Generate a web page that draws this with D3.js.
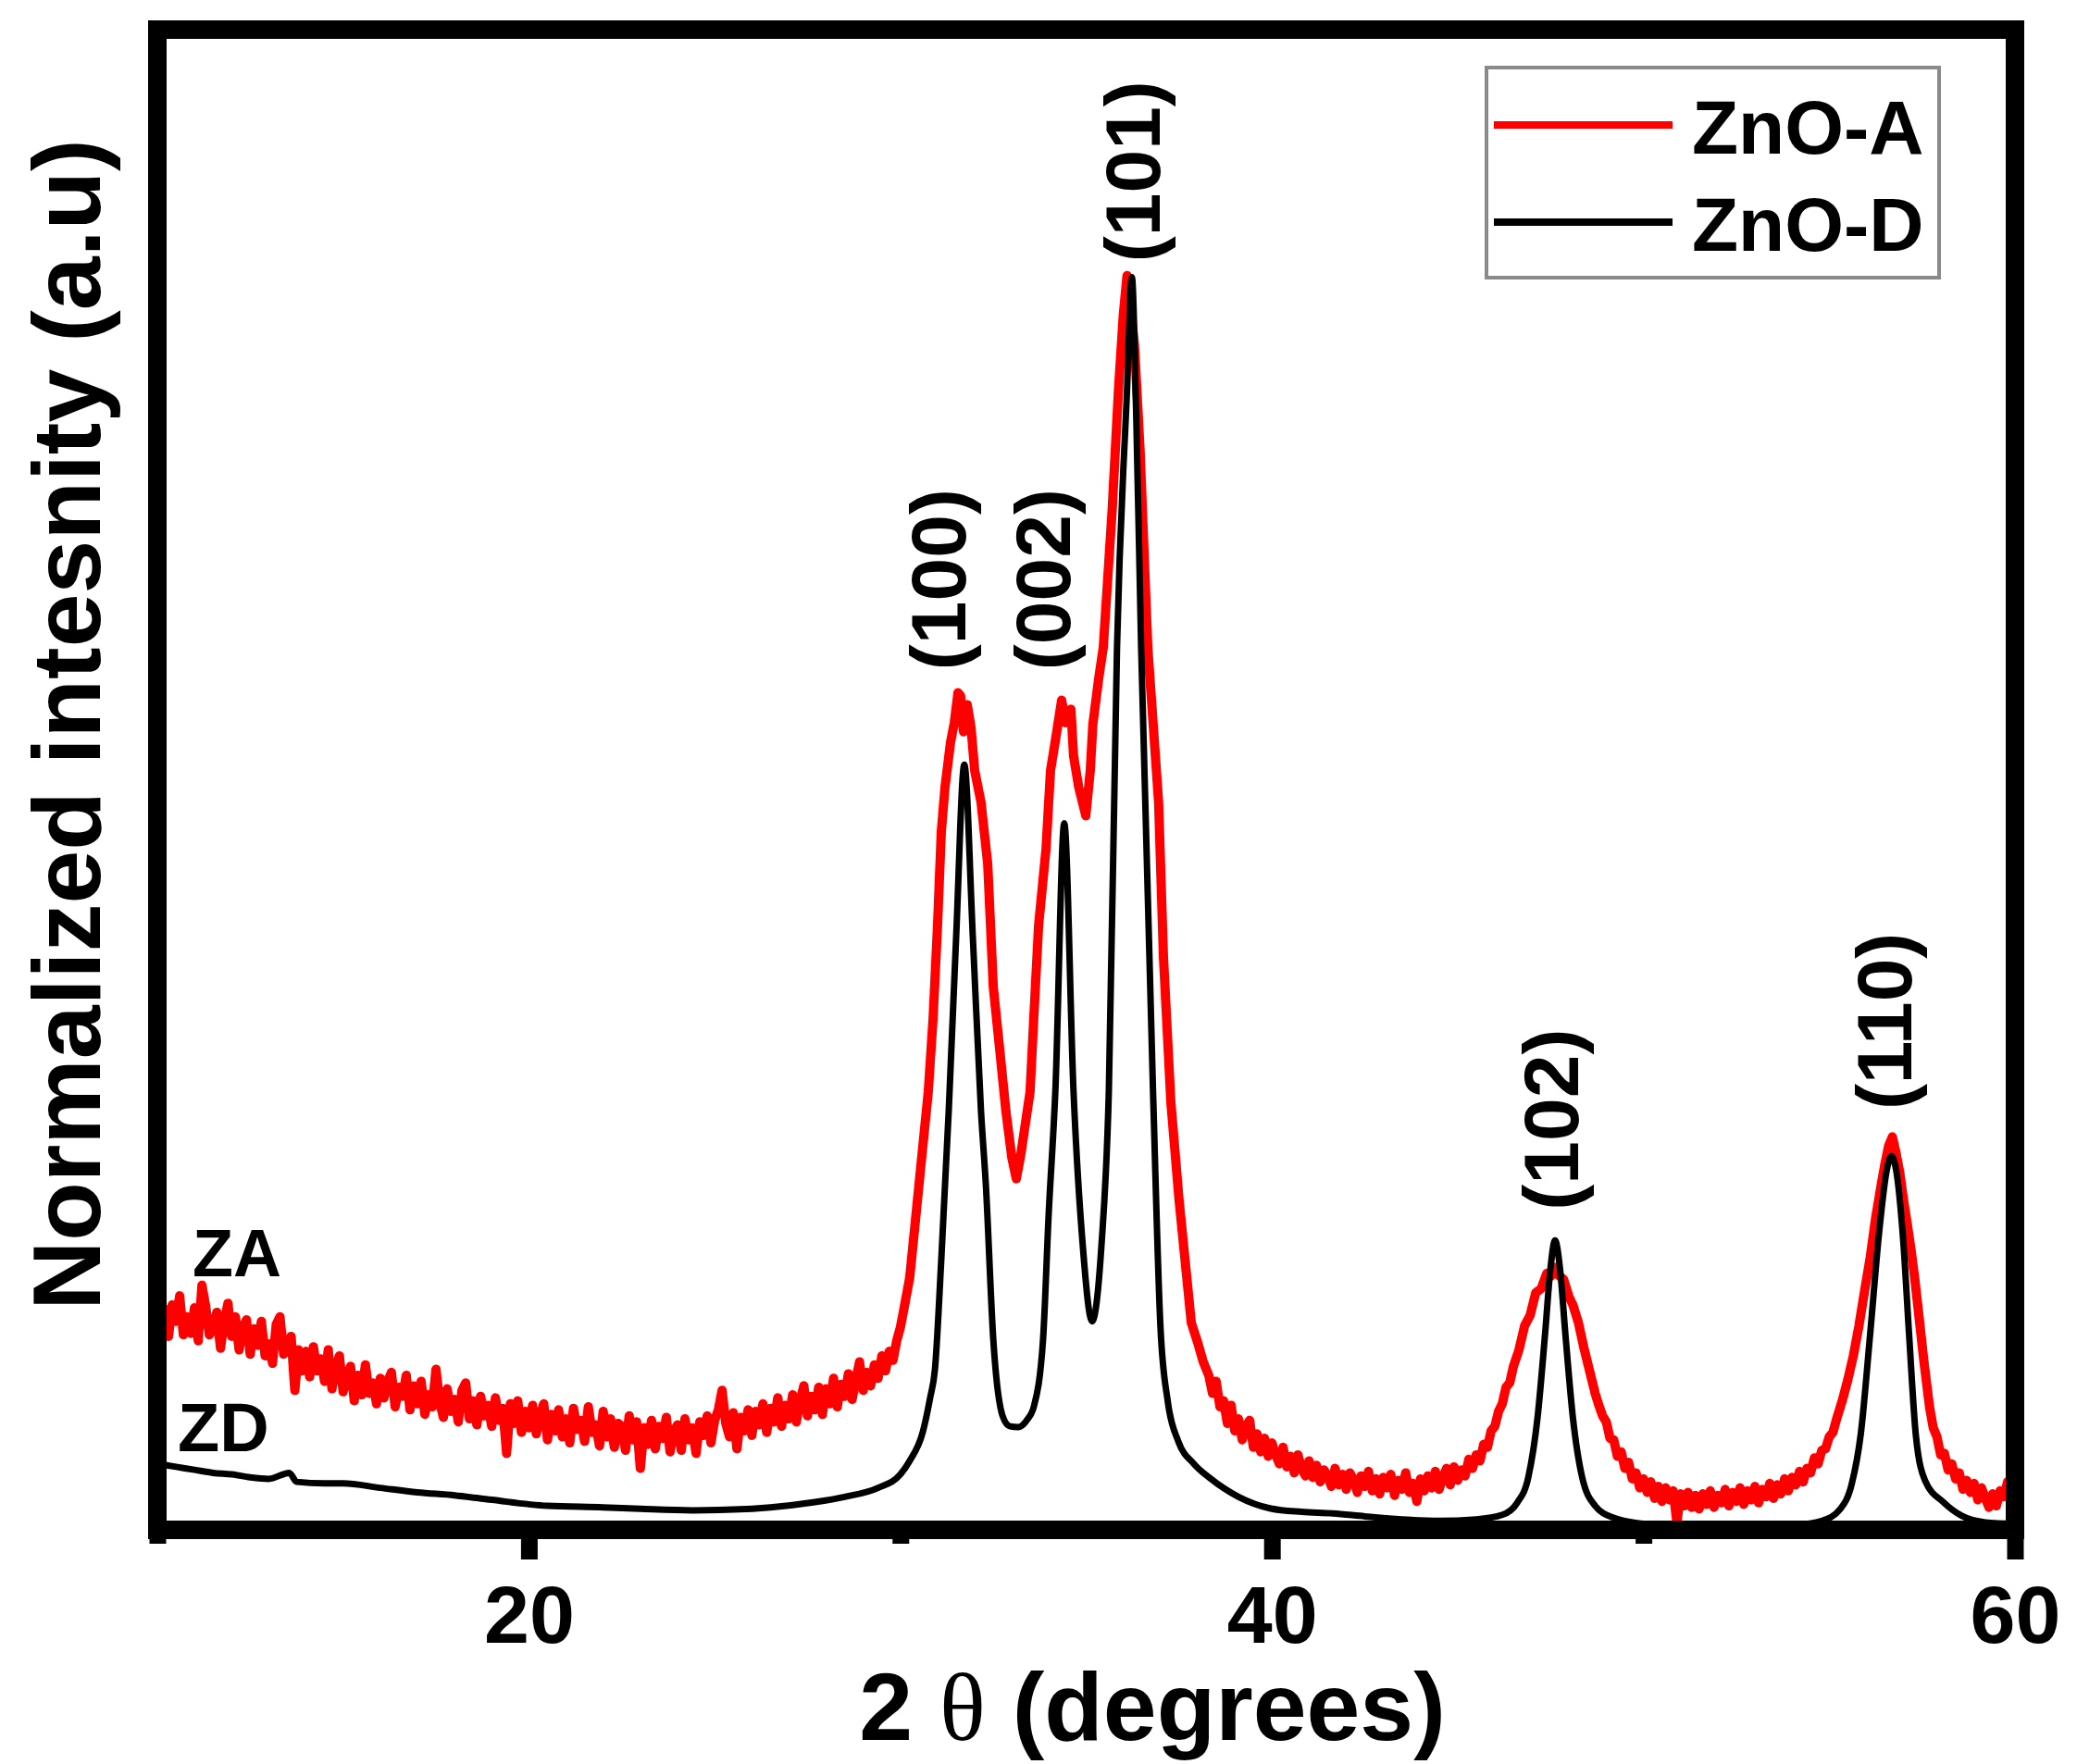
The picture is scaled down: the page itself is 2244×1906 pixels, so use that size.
<!DOCTYPE html>
<html>
<head>
<meta charset="utf-8">
<script src="https://d3js.org/d3.v7.min.js"></script>
<style>
  body { margin: 0; background: #fff; }
  text { font-family: "Liberation Sans", Arial, sans-serif; font-weight: bold; fill: #000; }
</style>
</head>
<body>
<svg id="chart" width="2244" height="1906"></svg>
<script>
// 2 theta (degrees), normalized intensity (a.u.)
var znoA = [
  [10.0,15.3],[10.1,13.5],[10.2,14.7],[10.3,12.9],[10.4,15.0],[10.5,13.9],[10.6,15.6],[10.7,13.0],[10.8,14.2],[10.9,13.1],
  [11.0,14.8],[11.1,12.6],[11.2,16.3],[11.3,14.9],[11.4,13.0],[11.5,13.4],[11.6,14.5],[11.7,12.1],[11.8,13.9],[11.9,15.1],
  [12.0,12.9],[12.1,14.2],[12.2,12.0],[12.3,13.5],[12.4,14.0],[12.5,11.7],[12.6,13.4],[12.7,12.3],[12.8,13.9],[12.9,11.6],
  [13.0,12.4],[13.1,11.1],[13.2,13.7],[13.3,14.2],[13.4,11.7],[13.5,12.3],[13.6,12.9],[13.7,9.3],[13.8,12.0],[13.9,10.6],
  [14.0,11.9],[14.1,10.2],[14.2,12.2],[14.3,10.6],[14.4,11.4],[14.5,9.9],[14.6,12.0],[14.7,9.4],[14.8,10.8],[14.9,11.6],
  [15.0,9.2],[15.1,10.2],[15.2,10.9],[15.3,8.6],[15.4,10.3],[15.5,9.0],[15.6,11.0],[15.7,9.1],[15.8,9.8],[15.9,8.4],
  [16.0,10.1],[16.1,8.8],[16.2,9.9],[16.3,10.5],[16.4,8.2],[16.5,9.5],[16.6,8.9],[16.7,10.3],[16.8,8.0],[16.9,9.6],
  [17.0,8.4],[17.1,9.9],[17.2,7.7],[17.3,9.0],[17.4,8.2],[17.5,10.7],[17.6,8.5],[17.7,7.5],[17.8,9.4],[17.9,7.9],
  [18.0,8.7],[18.1,7.2],[18.2,9.3],[18.3,9.8],[18.4,7.4],[18.5,8.6],[18.6,7.0],[18.7,8.9],[18.8,7.6],[18.9,8.3],
  [19.0,6.9],[19.1,8.8],[19.2,7.3],[19.3,8.1],[19.4,5.1],[19.5,8.4],[19.6,7.1],[19.7,8.6],[19.8,6.5],[19.9,7.9],
  [20.0,6.8],[20.1,8.3],[20.2,6.4],[20.3,7.6],[20.4,8.4],[20.5,6.0],[20.6,7.7],[20.7,6.6],[20.8,8.0],[20.9,6.2],
  [21.0,7.4],[21.1,5.8],[21.2,8.1],[21.3,6.7],[21.4,7.3],[21.5,5.9],[21.6,8.2],[21.7,6.5],[21.8,7.0],[21.9,5.6],
  [22.0,7.9],[22.1,6.2],[22.2,7.4],[22.3,5.5],[22.4,7.1],[22.5,6.9],[22.6,5.3],[22.7,7.6],[22.8,6.0],[22.9,7.2],
  [23.0,4.1],[23.1,6.8],[23.2,5.7],[23.3,7.3],[23.4,5.4],[23.5,6.9],[23.6,6.1],[23.7,7.5],[23.8,5.2],[23.9,6.6],
  [24.0,7.0],[24.1,5.3],[24.2,7.4],[24.3,6.0],[24.4,6.8],[24.5,5.1],[24.6,7.2],[24.7,6.3],[24.8,7.6],[24.9,5.8],
  [25.0,7.3],[25.1,8.0],[25.2,9.3],[25.3,7.1],[25.4,6.2],[25.5,7.8],[25.6,5.4],[25.7,7.5],[25.8,6.6],[25.9,8.0],
  [26.0,6.3],[26.1,7.9],[26.2,7.0],[26.3,8.4],[26.4,6.5],[26.5,8.1],[26.6,7.2],[26.7,8.8],[26.8,6.9],[26.9,8.3],
  [27.0,7.4],[27.1,9.0],[27.2,7.2],[27.3,8.6],[27.4,9.6],[27.5,7.6],[27.6,8.9],[27.7,8.0],[27.8,9.5],[27.9,7.7],
  [28.0,9.4],[28.1,8.4],[28.2,10.1],[28.3,8.2],[28.4,9.7],[28.5,8.9],[28.6,10.4],[28.7,8.7],[28.8,10.0],[28.9,11.2],
  [29.0,9.3],[29.1,10.5],[29.2,9.6],[29.3,11.0],[29.4,10.1],[29.5,11.6],[29.6,10.6],[29.7,11.9],[29.8,11.3],[29.9,12.6],
  [30.0,13.5],[30.1,14.8],[30.25,16.8],[30.5,23.0],[30.75,29.2],[30.88,34.1],[31.0,40.3],[31.1,46.5],[31.2,49.5],[31.35,52.5],
  [31.45,53.8],[31.55,55.8],[31.62,55.6],[31.7,53.2],[31.8,55.0],[31.9,53.5],[32.0,50.6],[32.17,48.5],[32.35,44.4],[32.5,36.2],
  [32.67,32.1],[32.84,27.9],[33.0,24.8],[33.12,23.4],[33.24,25.0],[33.49,29.2],[33.59,34.1],[33.72,40.3],[33.92,45.4],[34.04,50.6],
  [34.17,52.6],[34.34,55.3],[34.45,53.8],[34.59,54.7],[34.66,51.6],[34.8,49.5],[34.99,47.6],[35.11,50.6],[35.18,53.7],[35.34,56.8],
  [35.46,58.8],[35.7,68.0],[35.87,76.0],[36.0,81.0],[36.1,83.6],[36.3,79.0],[36.45,72.0],[36.66,58.8],[36.95,48.5],[37.08,38.2],
  [37.28,28.5],[37.5,22.0],[37.83,13.8],[38.0,12.5],[38.15,11.2],[38.3,10.3],[38.4,9.1],[38.5,9.9],[38.6,8.2],[38.7,8.6],
  [38.8,7.1],[38.9,8.3],[39.0,6.6],[39.1,7.4],[39.2,6.0],[39.3,6.9],[39.4,7.3],[39.5,5.5],[39.6,6.4],[39.7,5.2],
  [39.8,6.1],[39.9,4.9],[40.0,5.8],[40.1,5.0],[40.2,4.4],[40.3,5.5],[40.4,4.2],[40.5,4.9],[40.6,3.8],[40.7,5.0],
  [40.8,4.1],[40.9,3.6],[41.0,4.6],[41.1,3.5],[41.2,4.3],[41.3,3.2],[41.4,4.0],[41.5,3.6],[41.6,2.9],[41.7,4.1],
  [41.8,3.0],[41.9,3.7],[42.0,2.7],[42.1,3.8],[42.2,3.3],[42.3,2.5],[42.4,3.6],[42.5,2.9],[42.6,3.9],[42.7,2.6],
  [42.8,3.4],[42.9,2.4],[43.0,3.5],[43.1,2.8],[43.2,3.7],[43.3,2.3],[43.4,3.3],[43.5,2.7],[43.6,3.8],[43.7,2.5],
  [43.8,3.1],[43.9,1.9],[44.0,3.4],[44.1,2.6],[44.2,3.6],[44.3,2.8],[44.4,3.9],[44.5,2.7],[44.6,3.5],[44.7,4.1],
  [44.8,3.0],[44.9,4.2],[45.0,3.3],[45.1,4.0],[45.2,3.6],[45.3,4.7],[45.4,4.1],[45.5,5.0],[45.6,4.6],[45.7,5.7],
  [45.8,5.5],[45.9,6.6],[46.0,6.9],[46.1,7.9],[46.2,8.4],[46.3,9.5],[46.4,9.8],[46.5,10.9],[46.65,12.0],[46.8,13.6],
  [46.95,14.3],[47.1,15.8],[47.25,16.1],[47.4,17.1],[47.5,16.9],[47.6,17.5],[47.7,17.0],[47.85,16.7],[48.0,15.5],[48.1,15.0],
  [48.25,13.8],[48.4,12.1],[48.55,10.6],[48.7,9.1],[48.8,8.3],[48.9,7.6],[49.0,7.2],[49.1,6.1],[49.2,6.0],[49.3,4.9],
  [49.4,5.2],[49.5,4.1],[49.6,4.5],[49.7,3.4],[49.8,3.8],[49.9,2.8],[50.0,3.4],[50.1,2.5],[50.2,3.2],[50.3,2.1],
  [50.4,2.9],[50.5,1.9],[50.6,2.8],[50.7,2.0],[50.8,2.6],[50.9,0.5],[51.0,2.4],[51.1,1.6],[51.2,2.5],[51.3,1.5],
  [51.4,2.3],[51.5,1.4],[51.6,2.4],[51.7,1.7],[51.8,2.6],[51.9,1.5],[52.0,2.3],[52.1,1.8],[52.2,2.7],[52.3,1.6],
  [52.4,2.5],[52.5,1.9],[52.6,2.8],[52.7,1.7],[52.8,2.6],[52.9,2.0],[53.0,2.9],[53.1,1.8],[53.2,2.7],[53.3,2.2],
  [53.4,3.1],[53.5,2.1],[53.6,3.0],[53.7,2.4],[53.8,3.4],[53.9,2.6],[54.0,3.5],[54.1,3.0],[54.2,3.9],[54.3,3.2],
  [54.4,4.1],[54.5,3.8],[54.6,4.8],[54.7,4.4],[54.8,5.3],[54.9,5.4],[55.0,6.2],[55.1,6.5],[55.2,7.4],[55.35,8.6],
  [55.5,10.0],[55.65,11.6],[55.8,13.6],[55.95,15.9],[56.1,18.1],[56.25,20.8],[56.4,23.0],[56.5,24.4],[56.6,25.6],[56.7,26.2],
  [56.8,25.1],[56.9,23.8],[57.0,22.0],[57.1,20.4],[57.2,18.7],[57.3,16.8],[57.4,14.6],[57.55,11.2],[57.7,8.2],[57.8,6.8],
  [57.9,6.2],[58.0,5.0],[58.1,5.1],[58.2,4.0],[58.3,4.4],[58.4,3.4],[58.5,3.8],[58.6,2.7],[58.7,3.3],[58.8,2.5],
  [58.9,3.1],[59.0,2.0],[59.1,2.8],[59.2,2.1],[59.3,1.5],[59.4,2.4],[59.5,1.6],[59.6,2.6],[59.7,2.2],[59.8,3.2],
  [59.9,2.4],[60.0,3.0]
];

var znoD = [
  [10.0,4.4],[10.5,4.2],[11.0,4.0],[11.5,3.8],[12.0,3.7],[12.5,3.5],[13.0,3.4],[13.55,3.8],[13.75,3.2],[14.5,3.1],
  [15.0,3.1],[16.0,2.8],[17.0,2.5],[18.0,2.3],[19.0,2.0],[20.5,1.6],[22.0,1.5],[23.0,1.4],[24.4,1.3],[25.5,1.35],
  [26.5,1.5],[27.7,1.85],[28.5,2.2],[29.4,2.8],[30.0,3.7],[30.25,4.6],[30.6,6.5],[30.8,8.8],[30.93,10.7],[31.1,18.0],
  [31.3,27.9],[31.5,39.5],[31.72,51.0],[31.95,39.5],[32.17,27.9],[32.3,23.0],[32.5,12.7],[32.75,7.6],[32.95,6.9],[33.17,6.85],
  [33.4,7.3],[33.59,8.2],[33.84,12.7],[33.99,21.0],[34.17,29.2],[34.41,47.1],[34.66,29.2],[34.91,18.9],[35.16,13.9],[35.41,18.9],
  [35.61,29.2],[35.83,58.8],[36.1,76.0],[36.23,83.5],[36.35,74.0],[36.48,58.8],[36.8,29.2],[37.0,13.5],[37.2,8.5],[37.48,5.9],
  [37.9,4.4],[38.33,3.45],[39.1,2.2],[39.97,1.42],[40.8,1.2],[41.64,1.1],[42.5,0.9],[43.5,0.7],[44.5,0.6],[45.5,0.7],
  [46.2,1.0],[46.6,1.8],[46.9,3.5],[47.15,7.5],[47.35,13.0],[47.5,17.5],[47.62,19.3],[47.75,17.5],[47.9,13.0],[48.1,7.5],
  [48.35,3.5],[48.7,1.6],[49.2,0.8],[50.0,0.4],[51.0,0.2],[52.0,0.2],[53.0,0.2],[54.0,0.3],[54.8,0.6],[55.3,1.4],
  [55.6,3.0],[55.85,6.4],[56.1,13.0],[56.35,20.0],[56.55,24.0],[56.67,24.9],[56.8,24.0],[57.0,19.0],[57.15,13.0],[57.33,6.35],
  [57.58,3.27],[58.07,1.85],[58.57,0.93],[59.2,0.5],[60.0,0.4]
];

var seriesNames = ["ZnO-A", "ZnO-D"];
var majorTicks = [20, 40, 60];
var minorTicks = [10, 30, 50];

// Miller indices and where their labels sit (2 theta, intensity)
var peakLabels = ["(100)", "(002)", "(101)", "(102)", "(110)"];
var peakLabelTheta = [31.23, 34.04, 36.46, 47.72, 56.69];
var peakLabelLevel = [57.3, 57.3, 84.5, 21.3, 28.0];

var box = { left: 170, right: 2177, top: 32, bottom: 1653 };

var svg = d3.select("#chart");

var x = d3.scaleLinear().domain([10, 60]).range([box.left, box.right]);
var y = d3.scaleLinear().domain([0, 100]).range([box.bottom, box.top]);

var line = d3.line()
    .x(function (d) { return x(d[0]); })
    .y(function (d) { return y(d[1]); });

// Curves: ZnO-A underneath, ZnO-D on top
svg.append("path")
    .datum(znoA)
    .attr("fill", "none")
    .attr("stroke", "#ff0000")
    .attr("stroke-width", 10)
    .attr("stroke-linejoin", "round")
    .attr("d", line);

svg.append("path")
    .datum(znoD)
    .attr("fill", "none")
    .attr("stroke", "#000")
    .attr("stroke-width", 7)
    .attr("stroke-linejoin", "round")
    .attr("d", line.curve(d3.curveMonotoneX));

// Frame
svg.append("rect")
    .attr("x", box.left)
    .attr("y", box.top)
    .attr("width", box.right - box.left)
    .attr("height", box.bottom - box.top)
    .attr("fill", "none")
    .attr("stroke", "#000")
    .attr("stroke-width", 20);

// X axis, major and minor ticks
var majorAxis = svg.append("g")
    .attr("transform", "translate(0," + box.bottom + ")")
    .call(d3.axisBottom(x).tickValues(majorTicks).tickSize(32).tickPadding(28)
        .tickFormat(d3.format("d")));
var minorAxis = svg.append("g")
    .attr("transform", "translate(0," + box.bottom + ")")
    .call(d3.axisBottom(x).tickValues(minorTicks).tickSize(15).tickFormat(""));

[majorAxis, minorAxis].forEach(function (g) {
    g.select(".domain").remove();
    g.selectAll(".tick line").attr("stroke", "#000").attr("stroke-width", 18);
});
majorAxis.selectAll(".tick text")
    .style("font-family", "'Liberation Sans', Arial, sans-serif")
    .style("font-weight", "bold")
    .attr("font-size", 88)
    .attr("fill", "#000");

// Axis titles
var xTitle = svg.append("text")
    .attr("x", 1245)
    .attr("y", 1880)
    .attr("text-anchor", "middle")
    .attr("font-size", 104);
xTitle.append("tspan").text("2 ");
xTitle.append("tspan")
    .style("font-family", "'Liberation Serif', 'Times New Roman', serif")
    .style("font-weight", "normal")
    .text("θ");
xTitle.append("tspan").text(" (degrees)");

svg.append("text")
    .attr("transform", "translate(82,783) rotate(-90)")
    .attr("dy", "0.25em")
    .attr("text-anchor", "middle")
    .attr("font-size", 104)
    .text("Normalized intesnity (a.u)");

// Peak labels
svg.selectAll("text.peak")
    .data(peakLabels)
    .enter()
    .append("text")
    .attr("class", "peak")
    .attr("transform", function (d, i) {
        return "translate(" + x(peakLabelTheta[i]) + "," + y(peakLabelLevel[i]) + ") rotate(-90)";
    })
    .attr("dy", "0.25em")
    .attr("font-size", 84)
    .text(function (d) { return d; });

// Curve tags
svg.append("text").attr("x", 208).attr("y", 1379).attr("font-size", 72).text("ZA");
svg.append("text").attr("x", 192).attr("y", 1568).attr("font-size", 74).text("ZD");

// Legend
var legend = svg.append("g");
legend.append("rect")
    .attr("x", 1606).attr("y", 73)
    .attr("width", 489).attr("height", 227)
    .attr("fill", "#fff")
    .attr("stroke", "#8a8a8a")
    .attr("stroke-width", 4);

var legendColors = ["#ff0000", "#000"];
var legendRows = legend.selectAll("g.row")
    .data(seriesNames)
    .enter()
    .append("g")
    .attr("class", "row")
    .attr("transform", function (d, i) { return "translate(0," + (135 + i * 105) + ")"; });

legendRows.append("line")
    .attr("x1", 1614).attr("x2", 1807)
    .attr("stroke", function (d, i) { return legendColors[i]; })
    .attr("stroke-width", 8);

legendRows.append("text")
    .attr("x", 1828)
    .attr("y", 31)
    .attr("font-size", 82)
    .text(function (d) { return d; });
</script>
</body>
</html>
